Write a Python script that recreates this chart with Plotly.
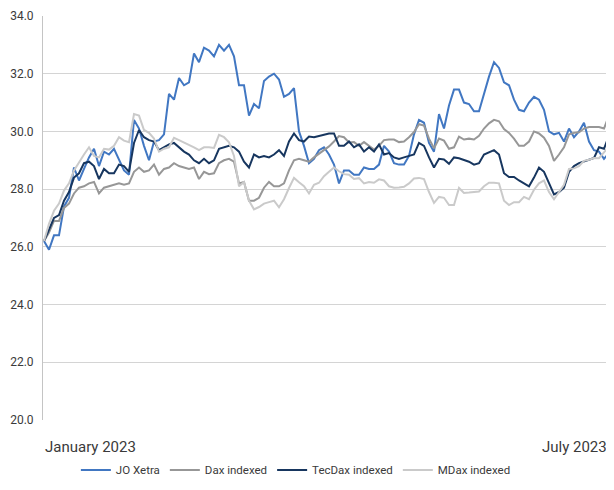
import plotly.graph_objects as go

# Trading-day index (sampled along the period shown)
n_points = 115
day_index = list(range(n_points))

x_tick_labels = ["January 2023", "July 2023"]
series_names = ["JO Xetra", "Dax indexed", "TecDax indexed", "MDax indexed"]

jo_xetra = [26.2, 25.9, 26.4, 26.4, 27.4, 27.7, 28.75, 28.3, 28.7, 29.1,
            29.4, 28.8, 29.3, 29.2, 29.4, 29.0, 28.65, 28.5, 30.4, 30.1,
            29.5, 29.0, 29.65, 29.7, 29.9, 31.3, 31.1, 31.85, 31.6, 31.7,
            32.7, 32.4, 32.9, 32.8, 32.6, 33.0, 32.8, 33.0, 32.6, 31.6,
            31.6, 30.55, 30.95, 30.8, 31.75, 31.9, 32.0, 31.8, 31.2, 31.3,
            31.5, 30.0, 29.5, 28.9, 29.05, 29.35, 29.45, 29.2, 28.85, 28.2,
            28.65, 28.65, 28.5, 28.5, 28.75, 28.7, 28.7, 28.85, 29.5, 29.3,
            28.9, 28.85, 28.85, 29.15, 29.9, 30.4, 30.3, 29.6, 29.3, 30.6,
            30.1, 30.9, 31.45, 31.45, 31.0, 30.95, 30.7, 30.7, 31.3, 31.9,
            32.4, 32.2, 31.7, 31.6, 31.1, 30.75, 30.7, 31.0, 31.2, 31.1,
            30.75, 30.0, 29.9, 29.95, 29.65, 30.1, 29.8, 30.0, 30.3, 29.65,
            29.35, 29.3, 29.05, 29.25, 29.25]

dax_indexed = [26.2, 26.5, 26.9, 26.9, 27.35, 27.5, 27.85, 28.05, 28.1, 28.2,
               28.25, 27.85, 28.05, 28.1, 28.15, 28.2, 28.15, 28.2, 28.6, 28.75,
               28.6, 28.65, 28.85, 28.5, 28.7, 28.75, 28.9, 28.8, 28.75, 28.7,
               28.75, 28.35, 28.6, 28.52, 28.55, 28.9, 29.0, 29.05, 28.95, 28.2,
               28.25, 27.6, 27.6, 27.7, 28.05, 28.25, 28.1, 28.1, 28.2, 28.65,
               29.0, 29.05, 29.0, 28.95, 29.1, 29.22, 29.33, 29.48, 29.65, 29.84,
               29.8, 29.62, 29.63, 29.5, 29.63, 29.5, 29.37, 29.5, 29.7, 29.72,
               29.72, 29.63, 29.65, 29.8, 29.98, 30.25, 30.2, 29.75, 29.42, 29.75,
               29.68, 29.4, 29.45, 29.82, 29.72, 29.75, 29.72, 29.85, 30.1, 30.28,
               30.4, 30.35, 30.08, 29.95, 29.75, 29.5, 29.5, 29.65, 30.0, 29.93,
               29.78, 29.5, 28.98, 29.2, 29.45, 29.9, 29.95, 29.97, 30.1, 30.15,
               30.15, 30.15, 30.1, 30.55, 30.63]

tecdax_indexed = [26.2, 26.6, 27.0, 27.1, 27.6, 27.9, 28.4, 28.55, 28.9, 28.95,
                  28.8, 28.35, 28.7, 28.55, 28.55, 28.85, 28.8, 28.6, 29.6, 30.05,
                  29.8, 29.7, 29.65, 29.35, 29.45, 29.55, 29.6, 29.45, 29.3, 29.2,
                  29.0, 28.9, 29.05, 28.9, 29.0, 29.4, 29.45, 29.5, 29.45, 29.3,
                  28.95, 28.75, 29.2, 29.1, 29.15, 29.1, 29.2, 29.35, 29.15, 29.65,
                  29.93, 29.7, 29.65, 29.82, 29.8, 29.85, 29.88, 29.93, 29.93, 29.5,
                  29.5, 29.65, 29.45, 29.55, 29.3, 29.45, 29.3, 29.55, 29.2, 29.25,
                  29.1, 29.05, 29.1, 29.15, 29.2, 29.6, 29.5, 29.1, 28.75, 29.05,
                  29.03, 28.88, 29.1, 29.07, 29.0, 28.95, 28.85, 28.9, 29.2, 29.27,
                  29.35, 29.2, 28.55, 28.42, 28.42, 28.3, 28.2, 28.1, 28.4, 28.75,
                  28.6, 28.2, 27.82, 27.9, 28.05, 28.6, 28.8, 28.9, 28.95, 29.02,
                  29.08, 29.45, 29.4, 29.85, 29.7]

mdax_indexed = [26.2, 26.8, 27.25, 27.5, 27.95, 28.2, 28.65, 28.95, 29.2, 29.45,
                29.15, 29.1, 29.4, 29.37, 29.5, 29.8, 29.68, 29.63, 30.6, 30.55,
                30.05, 29.95, 29.75, 29.3, 29.4, 29.45, 29.78, 29.7, 29.62, 29.55,
                29.45, 29.35, 29.45, 29.45, 29.43, 29.88, 29.8, 29.62, 29.15, 28.1,
                28.25, 27.6, 27.3, 27.38, 27.5, 27.55, 27.6, 27.37, 27.65, 28.04,
                28.39, 28.24, 28.1, 27.85, 28.15, 28.22, 28.45, 28.6, 28.75, 28.62,
                28.52, 28.5, 28.35, 28.38, 28.2, 28.25, 28.22, 28.34, 28.3, 28.1,
                28.05, 28.06, 28.08, 28.2, 28.37, 28.39, 28.35, 27.9, 27.52, 27.73,
                27.7, 27.45, 27.45, 28.04, 27.87, 27.88, 27.9, 27.92, 28.1, 28.22,
                28.22, 28.2, 27.6, 27.45, 27.55, 27.55, 27.73, 27.65, 27.98, 28.2,
                28.3, 27.9, 27.65, 27.9, 28.15, 28.7, 28.72, 28.8, 28.98, 29.02,
                29.08, 29.07, 29.27, 29.48, 29.42]

colors = ["#4177c2", "#979797", "#17365f", "#cacaca"]
values = [jo_xetra, dax_indexed, tecdax_indexed, mdax_indexed]

FONT = "Roboto, sans-serif"
TXT = "#3a3a3a"

fig = go.Figure()
for name, vals, col in zip(series_names, values, colors):
    fig.add_trace(go.Scatter(x=day_index, y=vals, mode="lines", name=name,
                             line=dict(color=col, width=2)))

# The page adds an 8px body margin, so the figure is 606x482 placed at (8, 8)
fig.update_layout(
    width=606, height=482,
    margin=dict(l=35, r=0, t=8, b=70, autoexpand=False),
    paper_bgcolor="white", plot_bgcolor="white",
    font=dict(family=FONT, size=12, color=TXT),
    showlegend=True,
    legend=dict(orientation="h", x=0.112, xanchor="left", xref="container",
                y=0.0415, yanchor="middle", yref="container",
                font=dict(size=11.5, color=TXT), itemwidth=30,
                bgcolor="rgba(0,0,0,0)"),
    xaxis=dict(range=[-0.2, n_points - 1], showgrid=False, zeroline=False,
               showticklabels=False, ticks="", showline=False, automargin=False),
    yaxis=dict(range=[20, 34], dtick=2, tickformat=".1f", showgrid=True,
               gridcolor="#d4d4d4", gridwidth=1, zeroline=False,
               showline=True, linecolor="#c4c4c4", linewidth=1,
               ticks="", ticklabelstandoff=6, automargin=False,
               tickfont=dict(size=12, color=TXT)),
)

fig.add_annotation(text=x_tick_labels[0], xref="paper", yref="paper",
                   x=0.0, y=-0.067, xanchor="left", yanchor="middle",
                   showarrow=False, font=dict(size=15, color=TXT))
fig.add_annotation(text=x_tick_labels[1], xref="paper", yref="paper",
                   x=0.992, y=-0.067, xanchor="right", yanchor="middle",
                   showarrow=False, font=dict(size=15, color=TXT))

fig.write_html("out.html")
